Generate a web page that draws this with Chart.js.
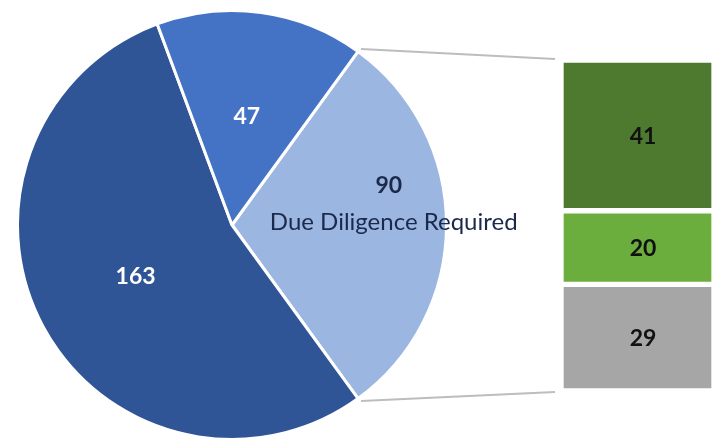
<!DOCTYPE html>
<html>
<head>
<meta charset="utf-8">
<script src="https://cdn.jsdelivr.net/npm/chart.js@4.4.0/dist/chart.umd.min.js"></script>
<style>
    html, body { margin: 0; padding: 0; background: #fff; }
    #wrap { position: relative; width: 714px; height: 445px; }
    #wrap canvas { position: absolute; left: 0; top: 0; }
</style>
</head>
<body>
<div id="wrap">
    <canvas id="barCanvas" width="714" height="445"></canvas>
    <canvas id="pieCanvas" width="714" height="445"></canvas>
</div>
<script>
// pie slices (drawn clockwise starting at the upper right)
const pieLabels = ['Due Diligence Required', 'Other', 'Pending'];
const pieValues = [90, 163, 47];
const pieColors = ['#9CB6E2', '#2F5597', '#4472C4'];
const pieTextColors = ['#1B2A4A', '#FFFFFF', '#FFFFFF'];

// breakdown of the 90 slice, bottom to top
const barValues = [29, 20, 41];
const barColors = ['#A6A6A6', '#6CAE3D', '#4D7A2E'];

const font = 'Lato, "Open Sans", sans-serif';

let barChart
let pieChart

// _+_+_+_+_+ BAR (pie breakdown) _+_+_+_+_+
barChart = new Chart(document.getElementById('barCanvas'), {
    type: 'bar',
    data: {
        labels: [''],
        datasets: barValues.map((v, i) => ({
            data: [v],
            backgroundColor: barColors[i],
            borderColor: '#FFFFFF',
            borderWidth: 3,
            borderSkipped: false,
            barPercentage: 1,
            categoryPercentage: 1
        }))
    },
    options: {
        responsive: false,
        animation: false,
        events: [],
        layout: { padding: { left: 561, right: -3, top: 60, bottom: 54 } },
        plugins: { legend: { display: false }, tooltip: { enabled: false } },
        scales: {
            x: { display: false, stacked: true },
            y: { display: false, stacked: true, min: 0, max: 90 }
        }
    },
    plugins: [{
        id: 'barLabels',
        afterDatasetsDraw(chart) {
            const ctx = chart.ctx;
            ctx.save();
            ctx.font = 'bold 23px ' + font;
            ctx.fillStyle = '#111111';
            ctx.textAlign = 'center';
            ctx.textBaseline = 'middle';
            chart.data.datasets.forEach((ds, i) => {
                const bar = chart.getDatasetMeta(i).data[0];
                ctx.fillText(String(ds.data[0]), 643, (bar.y + bar.base) / 2 + 1);
            });
            ctx.restore();
        }
    }]
});

// _+_+_+_+_+ PIE _+_+_+_+_+
pieChart = new Chart(document.getElementById('pieCanvas'), {
    type: 'pie',
    data: {
        labels: pieLabels,
        datasets: [{
            data: pieValues,
            backgroundColor: pieColors,
            borderColor: '#FFFFFF',
            borderWidth: 3,
            hoverOffset: 0,
            offset: 0
        }]
    },
    options: {
        responsive: false,
        animation: false,
        events: [],
        rotation: 36,
        layout: { padding: { left: 16, right: 266, top: 9, bottom: 4 } },
        plugins: { legend: { display: false }, tooltip: { enabled: false } }
    },
    plugins: [{
        id: 'pieExtras',
        afterDatasetsDraw(chart) {
            const ctx = chart.ctx;
            const arcs = chart.getDatasetMeta(0).data;

            //CONNECTOR LINES
            const first = arcs[0];
            const bars = barChart.getDatasetMeta(0).data[0];
            const topBar = barChart.getDatasetMeta(barValues.length - 1).data[0];
            const barLeft = bars.x - bars.width / 2;
            ctx.save();
            ctx.strokeStyle = '#BDBDBD';
            ctx.lineWidth = 2;
            [[first.startAngle, topBar.y - 1], [first.endAngle, bars.base + 1]].forEach(([a, y]) => {
                ctx.beginPath();
                ctx.moveTo(first.x + Math.cos(a) * (first.outerRadius + 5), first.y + Math.sin(a) * (first.outerRadius + 3));
                ctx.lineTo(barLeft - 6, y);
                ctx.stroke();
            });
            ctx.restore();

            //SLICE LABELS
            ctx.save();
            ctx.textAlign = 'center';
            ctx.textBaseline = 'middle';
            arcs.forEach((arc, i) => {
                const mid = (arc.startAngle + arc.endAngle) / 2;
                ctx.fillStyle = pieTextColors[i];
                if (i === 0) {
                    const r = arc.outerRadius * 0.74;
                    const x = arc.x + Math.cos(mid) * r;
                    const y = arc.y + Math.sin(mid) * r;
                    ctx.font = 'bold 23px ' + font;
                    ctx.fillText(String(pieValues[i]), x - 2, y - 39);
                    ctx.font = '24px ' + font;
                    ctx.fillText(pieLabels[i], x + 3, y - 3);
                } else {
                    const r = arc.outerRadius * 0.51;
                    ctx.font = 'bold 23px ' + font;
                    ctx.fillText(String(pieValues[i]), arc.x + Math.cos(mid) * r, arc.y + Math.sin(mid) * r);
                }
            });
            ctx.restore();
        }
    }]
});
</script>
</body>
</html>
